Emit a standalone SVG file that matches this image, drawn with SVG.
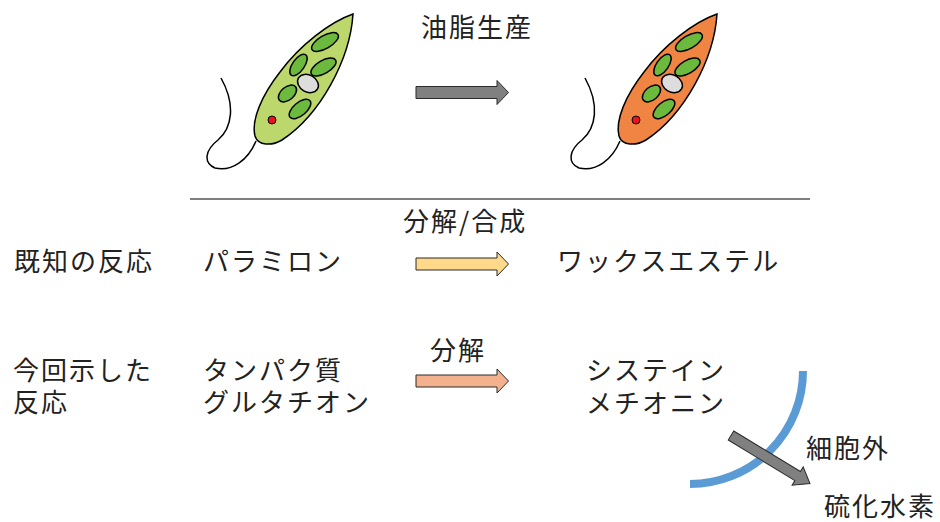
<svg xmlns="http://www.w3.org/2000/svg" xmlns:xlink="http://www.w3.org/1999/xlink" width="940" height="522" viewBox="0 0 940 522">
  <style>
    .t { font-family: "Noto Sans CJK JP", "Noto Sans", sans-serif; font-size: 26px; fill: #222; letter-spacing: 2px; }
    .line { stroke: #000; stroke-width: 1.5; fill: none; }
    .chl { fill: #6BBA3E; stroke: #000; stroke-width: 1.5; }
    .arrow { stroke: #2b2b2b; stroke-width: 1; }
  </style>
  <defs>
    <!-- Euglena cell; body fill is inherited from the <use> element -->
    <g id="euglena">
      <path class="line" d="M256,141 C248,160 232,172 215,168 C203,163 205,150 218,140 C232,128 236,105 221,78"/>
      <path stroke="#000" stroke-width="1.5" d="M353,14 C350,60 320,115 282,140 C272,146 258,146 255,136 C251,120 262,95 280,72 C300,45 330,22 353,14 Z"/>
      <ellipse class="chl" cx="325" cy="42" rx="15" ry="6.5" transform="rotate(-30 325 42)"/>
      <ellipse class="chl" cx="298.5" cy="65" rx="12.5" ry="6" transform="rotate(-55 298.5 65)"/>
      <ellipse class="chl" cx="323.5" cy="67" rx="14" ry="6.5" transform="rotate(-30 323.5 67)"/>
      <ellipse class="chl" cx="287.5" cy="93.5" rx="10.5" ry="6.5" transform="rotate(-40 287.5 93.5)"/>
      <ellipse class="chl" cx="300" cy="109" rx="13" ry="6.5" transform="rotate(-40 300 109)"/>
      <ellipse cx="308" cy="83.5" rx="11" ry="8.5" fill="#DDDDDD" stroke="#000" stroke-width="1.5" transform="rotate(30 308 83.5)"/>
      <circle cx="272" cy="120" r="4" fill="#E8141B" stroke="#000" stroke-width="1"/>
    </g>
    <polygon id="blockArrow" points="0,-6 81,-6 81,-12 92.5,0 81,12 81,6 0,6"/>
  </defs>

  <g id="euglena-green">
    <use xlink:href="#euglena" fill="#BCD86D"/>
  </g>
  <g id="euglena-orange">
    <use xlink:href="#euglena" fill="#EF8443" transform="translate(364,0)"/>
  </g>

  <!-- divider -->
  <line x1="190" y1="199" x2="810" y2="199" stroke="#000" stroke-width="1.2"/>

  <!-- cell membrane -->
  <g id="membrane">
    <path d="M803,371 A113,113 0 0 1 690,484" fill="none" stroke="#5B9BD5" stroke-width="8"/>
  </g>

  <g id="connectors">
    <use xlink:href="#blockArrow" class="arrow" fill="#808080" transform="translate(416,92.5)"/>
    <use xlink:href="#blockArrow" class="arrow" fill="#FFD98A" transform="translate(416,264)"/>
    <use xlink:href="#blockArrow" class="arrow" fill="#F4B18E" transform="translate(416,381)"/>
    <polygon class="arrow" fill="#808080" points="0,-5.3 78,-5.3 78,-10.7 92.4,0 78,10.7 78,5.3 0,5.3" transform="translate(731,435.5) rotate(31.3)"/>
  </g>

  <g id="labels">
    <text class="t" x="421" y="37">油脂生産</text>
    <text class="t" x="403" y="231">分解/合成</text>
    <text class="t" x="430" y="360">分解</text>
  </g>

  <g id="row-known">
    <text class="t" x="14" y="271">既知の反応</text>
    <text class="t" x="203" y="271">パラミロン</text>
    <text class="t" x="557" y="271">ワックスエステル</text>
  </g>

  <g id="row-new">
    <text class="t" x="13" y="380">今回示した<tspan x="13" dy="32">反応</tspan></text>
    <text class="t" x="203" y="380">タンパク質<tspan x="203" dy="32">グルタチオン</tspan></text>
    <text class="t" x="586" y="380">システイン<tspan x="586" dy="33">メチオニン</tspan></text>
  </g>

  <g id="outside">
    <text class="t" x="806" y="458">細胞外</text>
    <text class="t" x="824" y="516">硫化水素</text>
  </g>
</svg>
